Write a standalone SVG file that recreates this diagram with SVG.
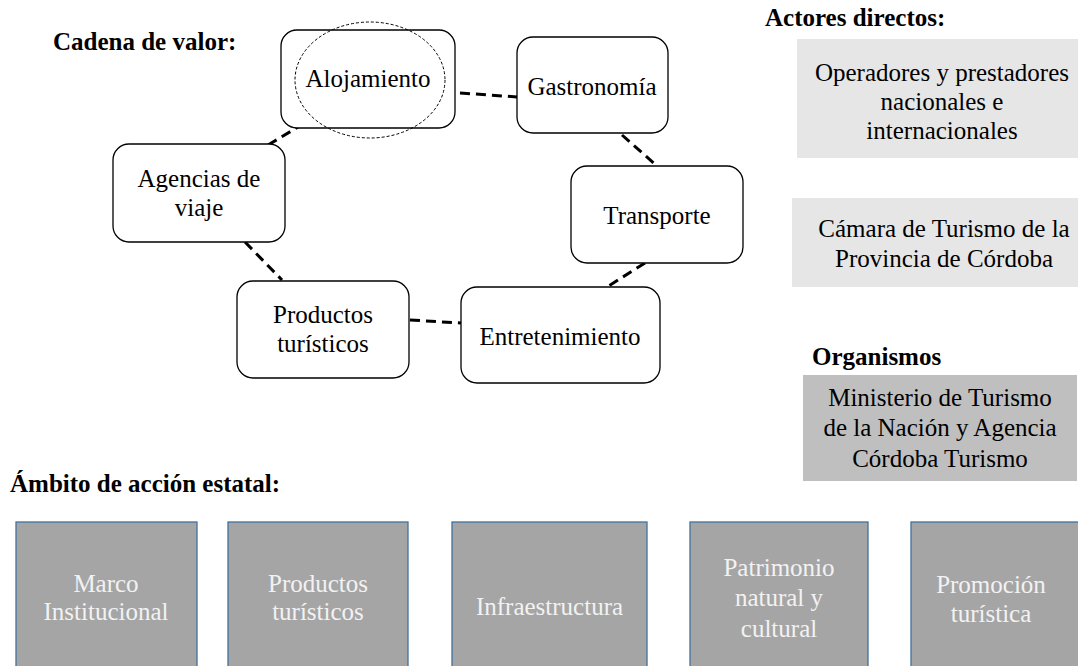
<svg xmlns="http://www.w3.org/2000/svg" width="1078" height="666" viewBox="0 0 1078 666">
<style>
text{font-family:"Liberation Serif","Times New Roman",serif;font-size:25px;fill:#000}
.h{font-weight:bold}
.c{text-anchor:middle}
.node rect{fill:#fff;stroke:#000;stroke-width:1.3}
.conn line{stroke:#000;stroke-width:3;stroke-dasharray:10 6}
.light{fill:#e7e6e6}
.dark{fill:#bfbfbf}
.st rect{fill:#a5a5a5;stroke:#41719c;stroke-width:1.3}
.st text{fill:#f2f2f2}
</style>
<rect width="1078" height="666" fill="#fff"/>
<text class="h" x="53" y="50">Cadena de valor:</text>
<text class="h" x="765" y="26">Actores directos:</text>
<text class="h" x="812" y="365">Organismos</text>
<text class="h" x="10" y="492">Ámbito de acción estatal:</text>

<g id="connectors" class="conn">
<line x1="460" y1="93" x2="517" y2="97"/>
<line x1="622" y1="135" x2="657" y2="166"/>
<line x1="645" y1="263" x2="607" y2="287"/>
<line x1="410" y1="320" x2="461" y2="323"/>
<line x1="245" y1="242" x2="282" y2="280"/>
<line x1="268" y1="145" x2="298" y2="127"/>
</g>

<g id="alojamiento" class="node">
<rect x="281" y="30" width="174" height="98" rx="16"/>
<ellipse cx="370" cy="80" rx="75" ry="58" fill="none" stroke="#000" stroke-width="1" stroke-dasharray="3 2"/>
<text class="c" x="368" y="87">Alojamiento</text>
</g>
<g id="gastronomia" class="node">
<rect x="517" y="37" width="151" height="96" rx="16"/>
<text class="c" x="592" y="95">Gastronomía</text>
</g>
<g id="transporte" class="node">
<rect x="571" y="166" width="172" height="97" rx="16"/>
<text class="c" x="657" y="224">Transporte</text>
</g>
<g id="entretenimiento" class="node">
<rect x="461" y="287" width="199" height="96" rx="16"/>
<text class="c" x="560" y="345">Entretenimiento</text>
</g>
<g id="productos" class="node">
<rect x="237" y="281" width="172" height="97" rx="16"/>
<text class="c" x="323" y="323">Productos</text>
<text class="c" x="323" y="352">turísticos</text>
</g>
<g id="agencias" class="node">
<rect x="113" y="144" width="172" height="98" rx="16"/>
<text class="c" x="199" y="187">Agencias de</text>
<text class="c" x="199" y="216">viaje</text>
</g>

<g id="operadores">
<rect class="light" x="797" y="39" width="281" height="119"/>
<text class="c" x="942" y="81">Operadores y prestadores</text>
<text class="c" x="942" y="110">nacionales e</text>
<text class="c" x="942" y="139">internacionales</text>
</g>
<g id="camara">
<rect class="light" x="792" y="198" width="286" height="89"/>
<text class="c" x="944" y="237">Cámara de Turismo de la</text>
<text class="c" x="944" y="267">Provincia de Córdoba</text>
</g>
<g id="ministerio">
<rect class="dark" x="803" y="375" width="274" height="106"/>
<text class="c" x="940" y="406">Ministerio de Turismo</text>
<text class="c" x="940" y="436">de la Nación y Agencia</text>
<text class="c" x="940" y="467">Córdoba Turismo</text>
</g>

<g id="marco" class="st">
<rect x="16" y="522" width="181" height="150"/>
<text class="c" x="106" y="592">Marco</text>
<text class="c" x="106" y="620">Institucional</text>
</g>
<g id="productos-estatal" class="st">
<rect x="228" y="522" width="180" height="150"/>
<text class="c" x="318" y="592">Productos</text>
<text class="c" x="318" y="620">turísticos</text>
</g>
<g id="infraestructura" class="st">
<rect x="452" y="522" width="195" height="150"/>
<text class="c" x="549.5" y="615">Infraestructura</text>
</g>
<g id="patrimonio" class="st">
<rect x="690" y="522" width="178" height="150"/>
<text class="c" x="779" y="576">Patrimonio</text>
<text class="c" x="779" y="606">natural y</text>
<text class="c" x="779" y="637">cultural</text>
</g>
<g id="promocion" class="st">
<rect x="911" y="522" width="180" height="150"/>
<text class="c" x="991" y="593">Promoción</text>
<text class="c" x="991" y="622">turística</text>
</g>
</svg>
